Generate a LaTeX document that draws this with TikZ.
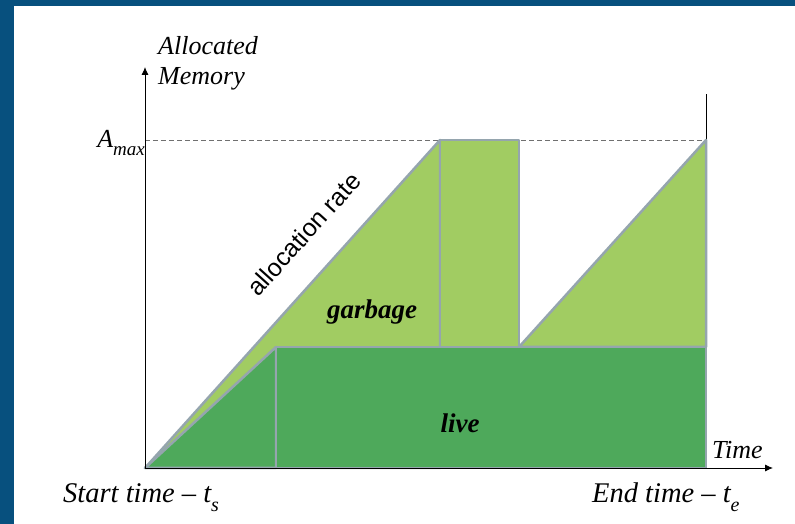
\documentclass[tikz,border=0pt]{standalone}
\usepackage{fontspec}
\setmainfont{Liberation Serif}
\setsansfont{Liberation Sans}
\usetikzlibrary{arrows.meta}
\definecolor{frame}{HTML}{07507E}
\definecolor{edge}{HTML}{95A5AE}
\definecolor{garbage}{HTML}{A1CC62}
\definecolor{live}{HTML}{4EA95B}
\definecolor{guide}{HTML}{707070}

\begin{document}
\begin{tikzpicture}[x=20pt,y=20pt,
  lbl/.style={font=\itshape\fontsize{26}{30}\selectfont,inner sep=0pt},
  endlbl/.style={font=\itshape\fontsize{28.5}{32}\selectfont,inner sep=0pt},
  tag/.style={font=\bfseries\itshape\fontsize{27}{30}\selectfont,inner sep=0pt},
  area/.style={draw=edge,line width=2.5pt,line join=round},
  axis/.style={line width=0.9pt,-{Latex[length=8pt,width=7pt]}}]
  \useasboundingbox (-7.25,-2.8) rectangle (32.5,23.4);
  \fill[white] (-7.25,-2.8) rectangle (32.5,23.4);
  \fill[frame] (-7.25,-2.8) rectangle (-6.55,23.4);
  \fill[frame] (-7.25,23.1) rectangle (32.5,23.4);

  % key points of the memory curve
  \coordinate (O) at (0,0);
  \coordinate (ytop) at (0,20.05);
  \coordinate (xend) at (31.4,0);
  \coordinate (amax) at (0,16.4);
  \coordinate (peak) at (14.75,16.4);
  \coordinate (gcend) at (18.7,16.4);
  \coordinate (top) at (28.05,16.4);
  \coordinate (mark) at (28.05,18.7);

  \draw[guide,line width=0.9pt,dash pattern=on 5pt off 3pt] (amax) -- (top);
  \draw[line width=0.9pt] (top) -- (mark);

  % garbage: ramp, collection, ramp again
  \filldraw[area,fill=garbage] (O) -- (peak) -- (14.75,0) -- cycle;
  \filldraw[area,fill=garbage] (14.75,6.05) rectangle (gcend);
  \filldraw[area,fill=garbage] (18.7,6.05) -- (top) -- (28.05,6.05) -- cycle;

  % live data
  \filldraw[area,fill=live] (O) -- (6.55,6.05) -- (6.55,0) -- cycle;
  \filldraw[area,fill=live] (6.55,0) rectangle (28.05,6.05);

  \draw[axis] (O) -- (ytop);
  \draw[axis] (O) -- (xend);

  \node[lbl,anchor=north west,align=left] (ylabel) at (0.65,21.6) {Allocated\\Memory};
  \node[lbl,anchor=base east] (amaxlbl) at (0,16.0) {A\raisebox{-0.3em}{\fontsize{19}{22}\selectfont max}};
  \node[lbl,anchor=base west] (xlabel) at (28.35,0.45) {Time};
  \node[endlbl,anchor=base west] (tstart) at (-4.1,-1.75) {Start time -- t\raisebox{-0.3em}{\fontsize{20}{22}\selectfont s}};
  \node[endlbl,anchor=base west] (tend) at (22.35,-1.75) {End time -- t\raisebox{-0.3em}{\fontsize{20}{22}\selectfont e}};

  \node[font=\sffamily\fontsize{25}{30}\selectfont,rotate=48,inner sep=0pt] (rate) at (7.95,11.7) {allocation rate};
  \node[tag] (garb) at (11.35,7.8) {garbage};
  \node[tag] (livelbl) at (15.75,2.25) {live};
\end{tikzpicture}
\end{document}
